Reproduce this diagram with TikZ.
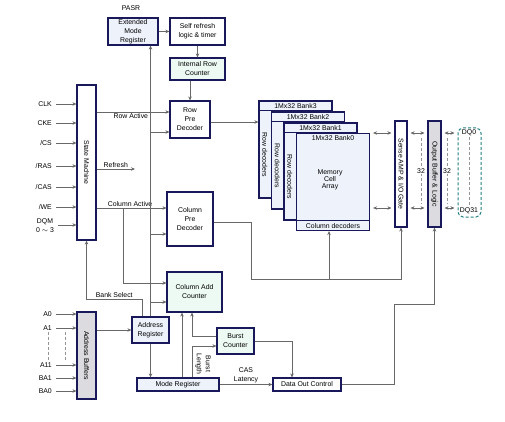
\documentclass[tikz,border=0pt]{standalone}
\usepackage{fontspec}
\setmainfont{Liberation Sans}
\usepackage{graphicx}
\usetikzlibrary{arrows.meta,positioning,calc}
\definecolor{navy}{RGB}{24,24,90}
\definecolor{wiregray}{RGB}{104,104,104}
\definecolor{lblue}{RGB}{238,243,251}
\definecolor{lgreen}{RGB}{237,250,244}
\definecolor{lgray}{RGB}{220,220,224}
\definecolor{dqteal}{RGB}{35,128,128}
\newcommand{\dfont}{\fontsize{6.9}{9}\selectfont}

\begin{document}
\begin{tikzpicture}[x=1pt,y=-1pt,every node/.style={font=\dfont,inner sep=1pt},
 box/.style={draw=navy,line width=1.1pt,fill=white,align=center},
 bank/.style={draw=navy,line width=1.1pt,fill=lblue,minimum width=73pt,minimum height=97pt},
 arr/.style={draw=wiregray,line width=0.8pt,-{Stealth[length=4pt,width=3.5pt]}},
 dbl/.style={draw=wiregray,line width=0.8pt,{Stealth[length=4pt,width=3.5pt]}-{Stealth[length=4pt,width=3.5pt]},shorten <=3pt,shorten >=3pt},
 dash32/.style={draw=wiregray!70,line width=0.7pt,dash pattern=on 3pt off 2pt}]
\useasboundingbox (0,0) rectangle (505,422);
% blocks
\node (pasr) at (131,8) {PASR};
\node[box,fill=lblue,minimum width=50pt,minimum height=27pt](emr) at (133,31.5){Extended\\Mode\\Register};
\node[box,minimum width=55pt,minimum height=27pt](srl) at (197.5,31.5){Self refresh\\logic \& timer};
\node[box,fill=lgreen,minimum width=55pt,minimum height=22pt](irc) at (197.5,69){Internal Row\\Counter};
\node[box,minimum width=40pt,minimum height=37pt](rpd) at (190,119.5){Row\\Pre\\Decoder};
\node[box,minimum width=19pt,minimum height=155pt](sm) at (86.5,162.5){\rotatebox{-90}{State Machine}};
\node[box,minimum width=46pt,minimum height=54pt](cpd) at (190,219){Column\\Pre\\Decoder};
\node[box,fill=lgreen,minimum width=55pt,minimum height=40pt](cac) at (194.5,292){Column Add\\Counter};
\node[box,fill=lblue,minimum width=37pt,minimum height=26pt](areg) at (150.5,330){Address\\Register};
\node[box,fill=lgray,minimum width=19pt,minimum height=87pt](abuf) at (86.5,355.5){\rotatebox{-90}{Address Buffers}};
\node[box,fill=lblue,minimum width=82pt,minimum height=13pt](mreg) at (178,384.5){Mode Register};
\node[box,fill=lgreen,minimum width=37pt,minimum height=26pt](bc) at (235.5,341){Burst\\Counter};
\node[box,minimum width=68pt,minimum height=13pt](doc) at (307,384.5){Data Out Control};
\node[box,minimum width=12pt,minimum height=106pt](sa) at (401,174){\rotatebox{-90}{Sense AMP \& I/O Gate}};
\node[box,fill=lgray,minimum width=13pt,minimum height=106pt](ob) at (434.5,174){\rotatebox{-90}{Output Buffer \& Logic}};
\node[draw=dqteal,line width=1pt,dash pattern=on 3pt off 2pt,rounded corners=5pt,minimum width=23pt,minimum height=89pt](dq) at (469.5,172.5){};
\node (dq0) at (469,133){DQ0};
\node (dq31) at (469,211){DQ31};
\draw[dash32] (dq0) -- (dq31);
% memory banks
\foreach \k/\n in {0/3,1/2,2/1}{
 \node[bank](b\n) at ({295.5+12.5*\k},{149.5+11*\k}){};
 \draw[navy,line width=1.1pt] ([yshift=-10.5pt]b\n.north west) -- ([yshift=-10.5pt]b\n.north east)
  ([shift={(13pt,-10.5pt)}]b\n.north west) -- ([xshift=13pt]b\n.south west);
 \node at ([yshift=-5.25pt]b\n.north){1Mx32 Bank\n};
 \node[rotate=-90] at ([shift={(6.5pt,-5.25pt)}]b\n.west){Row decoders};
}
\node[bank](b0) at (333,182){};
\draw[navy,line width=1.1pt] ([yshift=11pt]b0.south west) -- ([yshift=11pt]b0.south east);
\node at ([yshift=-5.5pt]b0.north){1Mx32 Bank0};
\node at ([yshift=5.5pt]b0.south){Column decoders};
\node[align=center,font=\fontsize{6.9}{6.8}\selectfont] (mca) at (330,180){Memory\\Cell\\Array};
% inputs
\foreach \y/\t [count=\i] in {104/CLK,123/CKE,143/{/CS},166/{/RAS},187/{/CAS},207/{/WE}}{
 \node[anchor=east](in\i) at (53,\y){\t};
 \draw[arr] ([xshift=3pt]in\i.east) -- (in\i -| sm.west);}
\node[align=center](dqm) at (45,226){DQM\\0 $\sim$ 3};
\draw[arr] ([xshift=3pt]dqm.east |- 0,225) -- (sm.west |- 0,225);
\foreach \y/\t [count=\i] in {314/A0,328/A1,365/A11,378/BA1,391/BA0}{
 \node[anchor=east](ad\i) at (53,\y){\t};
 \draw[arr] ([xshift=3pt]ad\i.east) -- (ad\i -| abuf.west);}
\draw[dash32] (ad2.south -| 48,0) -- (ad3.north -| 48,0) (ad2.south -| 65,0) -- (ad3.north -| 65,0);
% control paths
\draw[arr] (emr) -- (srl);
\draw[arr] (srl) -- (irc);
\draw[arr] (rpd.north |- irc.south) -- (rpd.north);
\draw[arr] (sm.east |- 0,112) -- (rpd.west |- 0,112) node[pos=.47,below]{Row Active};
\draw[arr] (sm.east |- 0,169) -- (135,169) node[midway,above]{Refresh};
\draw[arr] (sm.east |- 0,208) -- (cpd.west |- 0,208) node[pos=.48,above]{Column Active};
\draw[arr] (123,208) |- (cac.west |- 0,283);
\draw[arr] (areg.north) -- (areg.north |- emr.south);
\foreach \y/\b in {132/rpd,234/cpd,302/cac} \draw[arr] (areg.north |- 0,\y) -- (\b.west |- 0,\y);
\draw[arr] ([xshift=-8.5pt]areg.north) |- (sm.south |- 0,299) node[pos=.75,above]{Bank Select} -- (sm.south);
\draw[arr] (abuf.east |- areg.west) -- (areg.west);
\draw[arr] (areg.south) -- (areg.south |- mreg.north);
\draw[arr] (mreg.north -| 182,0) -- (cac.south -| 182,0);
\draw[arr] ([yshift=5pt]bc.west) -| (cac.south -| 192,0);
\draw[arr] (mreg.north -| 192,0) |- ([yshift=-5pt]bc.west);
\node[rotate=-90,align=center](bl) at (203,364){Burst\\Length};
\draw[arr] (bc.east) -| ([xshift=-15pt]doc.north);
\draw[arr] (mreg) -- (doc) node[midway,above,align=center]{CAS\\Latency};
\draw[arr] (doc.east) -| (394,304) -| (ob.south);
\draw[arr] ([yshift=-3pt]cpd.east) -| (251,279) -| (sa.south);
\coordinate (cb) at (329,279);
\draw[arr] (cb) -- (cb |- b0.south);
\draw[arr] ([yshift=-2.5pt]rpd.east) -- ([yshift=-2.5pt]rpd.east -| b3.west);
% data paths
\foreach \y in {133,208}{
 \draw[dbl] (b0.east |- 0,\y) -- (sa.west |- 0,\y);
 \draw[dbl] (sa.east |- 0,\y) -- (ob.west |- 0,\y);
 \draw[dbl] (ob.east |- 0,\y) -- (dq.west |- 0,\y);}
\foreach \x in {421,447} \draw[dash32] (\x,138) -- (\x,204) node[midway,fill=white,inner sep=0.5pt]{32};
\end{tikzpicture}
\end{document}
